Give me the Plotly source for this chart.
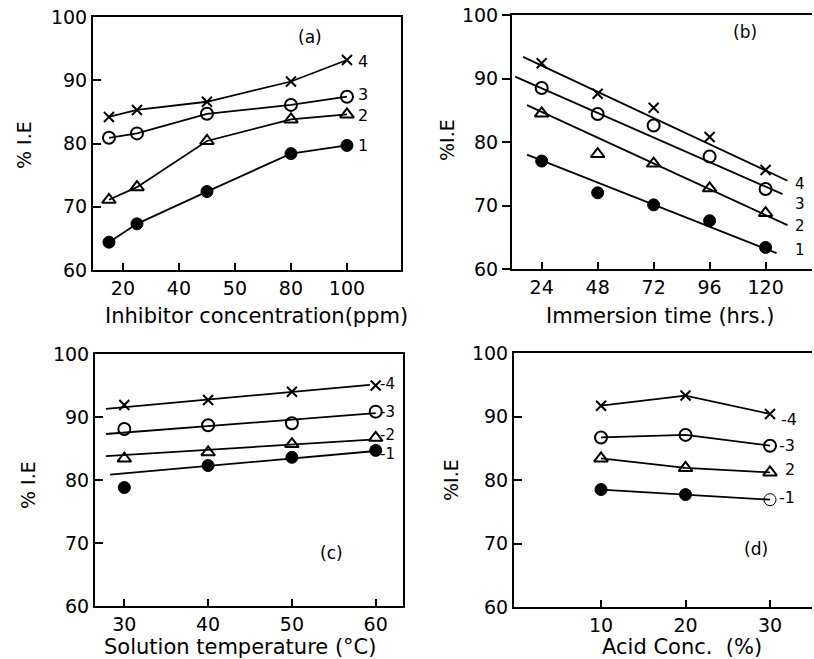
import plotly.graph_objects as go

# ---------------- data ----------------
# (a) inhibitor concentration
a_x = [15, 25, 50, 80, 100]
a_s4 = [84.2, 85.3, 86.6, 89.8, 93.2]
a_s3 = [80.9, 81.6, 84.7, 86.1, 87.4]
a_s2 = [71.1, 73.1, 80.4, 83.8, 84.6]
a_s1 = [64.4, 67.3, 72.4, 78.4, 79.7]
a_tickvals = [20, 40, 60, 80, 100]
a_ticktext = ["20", "40", "50", "80", "100"]

# (b) immersion time
b_x = [24, 48, 72, 96, 120]
b_s4 = [92.4, 87.6, 85.4, 80.8, 75.6]
b_s3 = [88.5, 84.4, 82.6, 77.7, 72.6]
b_s2 = [84.5, 78.1, 76.6, 72.7, 68.8]
b_s1 = [77.0, 72.0, 70.1, 67.6, 63.4]
b_fit4_x, b_fit4_y = [16.0, 129.4], [93.4, 73.9]
b_fit3_x, b_fit3_y = [12.6, 127.3], [90.3, 71.8]
b_fit2_x, b_fit2_y = [17.7, 129.4], [85.8, 66.9]
b_fit1_x, b_fit1_y = [17.7, 124.7], [78.0, 62.5]
b_tickvals = [24, 48, 72, 96, 120]

# (c) solution temperature
c_x = [30, 40, 50, 60]
c_s4 = [91.9, 92.7, 94.0, 95.0]
c_s3 = [88.1, 88.7, 89.0, 90.85]
c_s2 = [83.4, 84.4, 85.7, 86.7]
c_s1 = [78.8, 82.3, 83.6, 84.7]
c_fit4_x, c_fit4_y = [27.8, 59.3], [91.3, 95.1]
c_fit3_x, c_fit3_y = [27.8, 60.0], [87.3, 90.6]
c_fit2_x, c_fit2_y = [27.8, 59.5], [83.8, 86.4]
c_fit1_x, c_fit1_y = [28.3, 60.0], [80.85, 84.6]
c_tickvals = [30, 40, 50, 60]

# (d) acid concentration
d_x = [10, 20, 30]
d_s4 = [91.7, 93.3, 90.4]
d_s3 = [86.7, 87.1, 85.4]
d_s2 = [83.4, 81.9, 81.2]
d_s1 = [78.5, 77.7, 76.9]
d_s1_symbols = ["circle", "circle", "circle-open"]
d_tickvals = [10, 20, 30]

y_tickvals = [60, 70, 80, 90, 100]

# ---------------- styles ----------------
FONT = "DejaVu Sans"
BLK = "black"
W, H = 814, 659

MK = {
    "4": dict(symbol="x-thin-open", size=10, color=BLK, line=dict(width=2, color=BLK)),
    "3": dict(symbol="circle-open", size=12, color=BLK, line=dict(width=2, color=BLK)),
    "2": dict(symbol="triangle-up-open", size=12, color=BLK, line=dict(width=2, color=BLK)),
    "1": dict(symbol="circle", size=12, color=BLK, line=dict(width=1, color=BLK)),
}

fig = go.Figure()


def add_connected(xa, ya, x, y, key, symbols=None):
    mk = dict(MK[key])
    if symbols is not None:
        mk["symbol"] = symbols
    fig.add_trace(go.Scatter(x=x, y=y, mode="lines+markers", xaxis=xa, yaxis=ya,
                             line=dict(color=BLK, width=1.8), marker=mk,
                             showlegend=False, hoverinfo="x+y"))


def add_points(xa, ya, x, y, key):
    fig.add_trace(go.Scatter(x=x, y=y, mode="markers", xaxis=xa, yaxis=ya,
                             marker=MK[key], showlegend=False, hoverinfo="x+y"))


def add_line(xa, ya, x, y):
    fig.add_trace(go.Scatter(x=x, y=y, mode="lines", xaxis=xa, yaxis=ya,
                             line=dict(color=BLK, width=1.8),
                             showlegend=False, hoverinfo="skip"))


# (a)
for s, k in [(a_s4, "4"), (a_s3, "3"), (a_s2, "2"), (a_s1, "1")]:
    add_connected("x", "y", a_x, s, k)

# (b)
for (fx, fy) in [(b_fit4_x, b_fit4_y), (b_fit3_x, b_fit3_y), (b_fit2_x, b_fit2_y), (b_fit1_x, b_fit1_y)]:
    add_line("x2", "y2", fx, fy)
for s, k in [(b_s4, "4"), (b_s3, "3"), (b_s2, "2"), (b_s1, "1")]:
    add_points("x2", "y2", b_x, s, k)

# (c)
for (fx, fy) in [(c_fit4_x, c_fit4_y), (c_fit3_x, c_fit3_y), (c_fit2_x, c_fit2_y), (c_fit1_x, c_fit1_y)]:
    add_line("x3", "y3", fx, fy)
for s, k in [(c_s4, "4"), (c_s3, "3"), (c_s2, "2"), (c_s1, "1")]:
    add_points("x3", "y3", c_x, s, k)

# (d)
add_connected("x4", "y4", d_x, d_s4, "4")
add_connected("x4", "y4", d_x, d_s3, "3")
add_connected("x4", "y4", d_x, d_s2, "2")
add_connected("x4", "y4", d_x, d_s1, "1", symbols=d_s1_symbols)


def px_x(p):
    return p / W


def px_y(p):
    return 1 - p / H


tickfont = dict(family=FONT, size=19, color=BLK)


def xaxis(dom, rng, tv, tt=None, ticks="inside"):
    return dict(domain=dom, range=rng, tickmode="array", tickvals=tv,
                ticktext=tt if tt else [str(v) for v in tv],
                showline=True, linewidth=2, linecolor=BLK, mirror=True,
                ticks=ticks, ticklen=7, tickwidth=1.5, tickcolor=BLK, automargin=False,
                showgrid=False, zeroline=False, tickfont=tickfont, fixedrange=True)


def yaxis(dom, anchor, mirror=True, ticks="inside"):
    return dict(domain=dom, range=[60, 100], tickmode="array", tickvals=y_tickvals,
                ticktext=[str(v) for v in y_tickvals], automargin=False,
                showline=True, linewidth=2, linecolor=BLK, mirror=mirror, anchor=anchor,
                ticks=ticks, ticklen=8, tickwidth=1.5, tickcolor=BLK,
                showgrid=False, zeroline=False, tickfont=tickfont, fixedrange=True)


xa_a = [px_x(93), px_x(401)]
ya_a = [px_y(270), px_y(17)]
xa_b = [px_x(512), px_x(812)]
ya_b = [px_y(269), px_y(15)]
xa_c = [px_x(95), px_x(403)]
ya_c = [px_y(606), px_y(354)]
xa_d = [px_x(514), px_x(812)]
ya_d = [px_y(607), px_y(353)]

fig.update_layout(
    width=W, height=H, autosize=False,
    margin=dict(l=0, r=0, t=0, b=0, pad=0, autoexpand=False),
    paper_bgcolor="white", plot_bgcolor="white",
    xaxis=dict(xaxis(xa_a, [9.3, 119.3], a_tickvals, a_ticktext), anchor="y"),
    yaxis=yaxis(ya_a, "x"),
    xaxis2=dict(xaxis(xa_b, [11.27, 139.9], b_tickvals), anchor="y2"),
    yaxis2=yaxis(ya_b, "x2", mirror=False, ticks="outside"),
    xaxis3=dict(xaxis(xa_c, [26.5, 63.26], c_tickvals), anchor="y3"),
    yaxis3=yaxis(ya_c, "x3"),
    xaxis4=dict(xaxis(xa_d, [-0.3, 34.97], d_tickvals), anchor="y4"),
    yaxis4=yaxis(ya_d, "x4", mirror=False),
)

ann = []


def label(xref, yref, x, y, t, size=16):
    ann.append(dict(xref=xref, yref=yref, x=x, y=y, text=t, showarrow=False,
                    font=dict(family=FONT, size=size, color=BLK), xanchor="center", yanchor="middle"))


# series labels
for t, yv in [("4", 93.0), ("3", 87.7), ("2", 84.4), ("1", 79.7)]:
    label("x", "y", 105.8, yv, t)
for t, yv in [("4", 73.4), ("3", 70.3), ("2", 66.8), ("1", 63.0)]:
    label("x2", "y2", 134.8, yv, t, 15)
for t, yv in [("-4", 95.3), ("-3", 90.8), ("-2", 87.1), ("-1", 84.1)]:
    label("x3", "y3", 61.4, yv, t, 15)
for t, xv, yv in [("-4", 32.2, 89.6), ("-3", 32.0, 85.4), ("2", 32.4, 81.6), ("-1", 32.0, 77.2)]:
    label("x4", "y4", xv, yv, t, 16)

# panel letters
label("x", "y", 86.7, 96.8, "(a)", 17)
label("x2", "y2", 111.0, 97.4, "(b)", 17)
label("x3", "y3", 54.7, 68.4, "(c)", 17)
label("x4", "y4", 28.4, 69.1, "(d)", 17)


# axis titles
def ptitle(xp, yp, t, angle=0, size=21):
    ann.append(dict(xref="paper", yref="paper", x=px_x(xp), y=px_y(yp), text=t,
                    showarrow=False, textangle=angle,
                    font=dict(family=FONT, size=size, color=BLK),
                    xanchor="center", yanchor="middle"))


ptitle(256, 316, "Inhibitor concentration(ppm)")
ptitle(660, 316, "Immersion time (hrs.)")
ptitle(240, 647, "Solution temperature (°C)")
ptitle(682, 647, "Acid Conc.  (%)")
ptitle(24, 145, "% I.E", -90, 19)
ptitle(447, 140, "%I.E", -90, 19)
ptitle(28, 485, "% I.E", -90, 19)
ptitle(451, 480, "%I.E", -90, 19)

fig.update_layout(annotations=ann)

fig.write_html("out.html", config={"displayModeBar": False, "responsive": False},
               post_script="document.body.style.margin='0';document.body.style.overflow='hidden';")
